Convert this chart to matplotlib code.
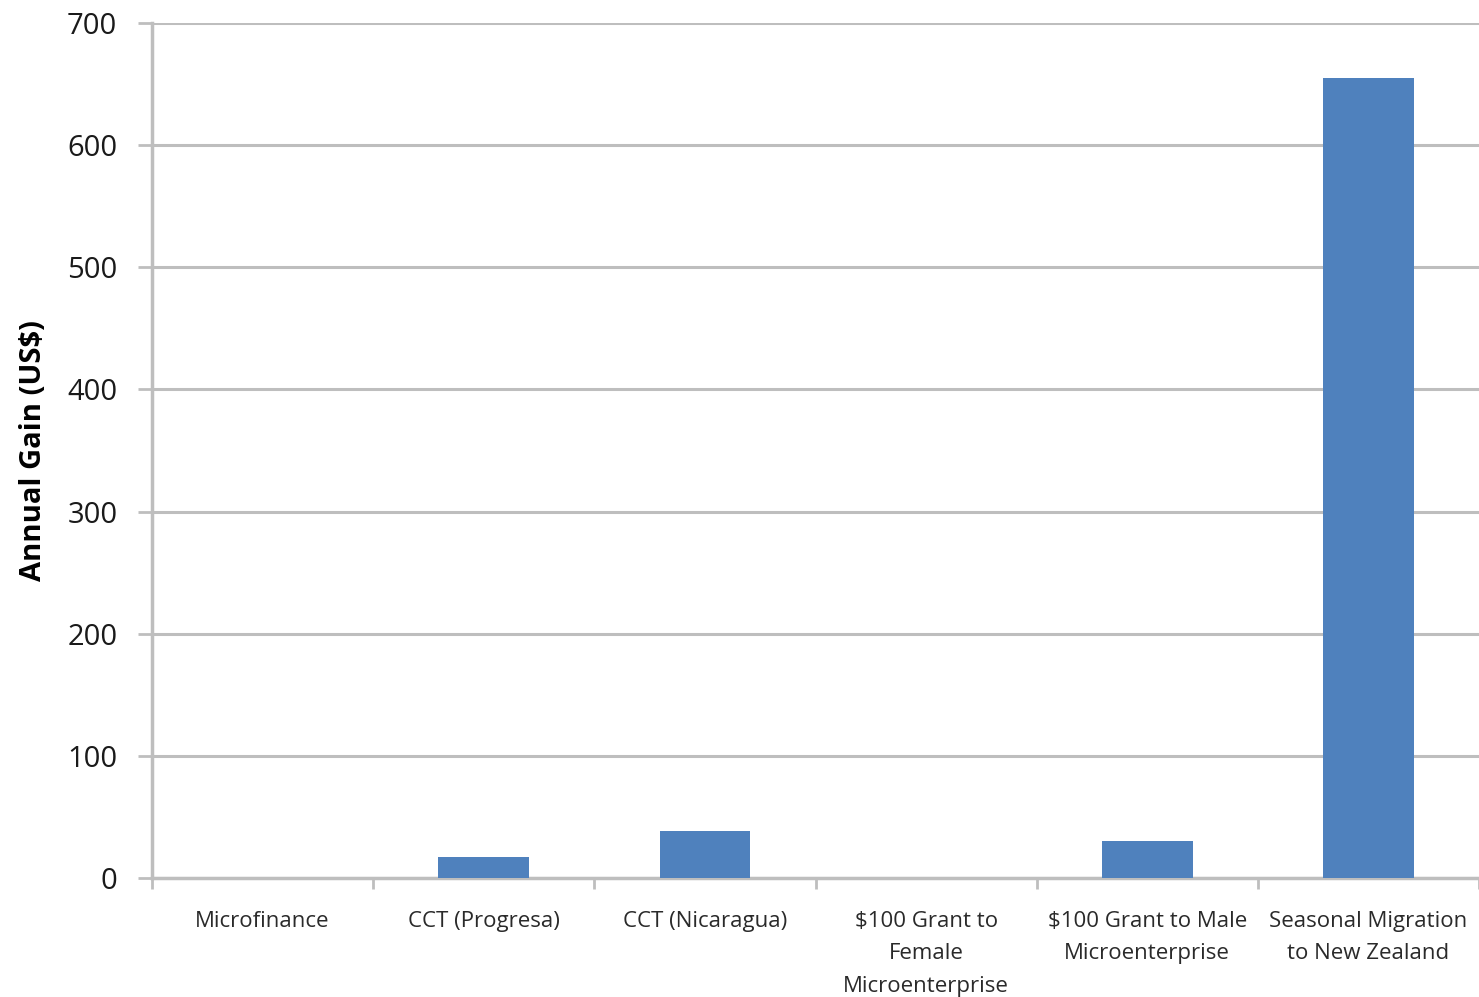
import matplotlib.pyplot as plt
import numpy as np

# **Chart data**
categories = [
    'Microfinance', 'CCT (Progresa)', 'CCT (Nicaragua)',
    '\\$100 Grant to\nFemale\nMicroenterprise',
    '\\$100 Grant to Male\nMicroenterprise',
    'Seasonal Migration\nto New Zealand',
]
annual_gain = [0, 17, 38.5, 0, 30, 655]
y_ticks = [0, 100, 200, 300, 400, 500, 600, 700]

plt.rcParams['font.family'] = ['Open Sans', 'DejaVu Sans']

fig = plt.figure(figsize=(14.79, 9.97), dpi=100)
ax = fig.add_axes([0.1028, 0.1194, 0.8972, 0.8575])

x = np.arange(len(categories))
ax.bar(x, annual_gain, width=0.41, color='#4F81BD', zorder=3)

ax.set_xlim(-0.5, len(categories) - 0.5)
ax.set_ylim(0, 700)
ax.set_yticks(y_ticks)
ax.set_yticklabels([str(t) for t in y_ticks], fontsize=21, color='#1a1a1a')
ax.yaxis.grid(True, color='#BEBEBE', linewidth=2.2, zorder=0)

# category boundaries for tick marks
ax.set_xticks(np.arange(len(categories) + 1) - 0.5)
ax.set_xticklabels([])
ax.tick_params(axis='x', length=8, width=2, color='#BEBEBE')
ax.tick_params(axis='y', length=10, width=2, color='#BEBEBE', pad=15)
for i, lab in enumerate(categories):
    ax.text(i, -27, lab, ha='center', va='top', fontsize=16,
            color='#2a2a2a', linespacing=1.72, clip_on=False)

for side in ['top', 'right']:
    ax.spines[side].set_visible(False)
for side in ['left', 'bottom']:
    ax.spines[side].set_color('#BEBEBE')
    ax.spines[side].set_linewidth(2.5)

ax.set_ylabel('Annual Gain (US\\$)', fontsize=21, fontweight='bold', labelpad=14)

fig.savefig('out.png', dpi=100)
